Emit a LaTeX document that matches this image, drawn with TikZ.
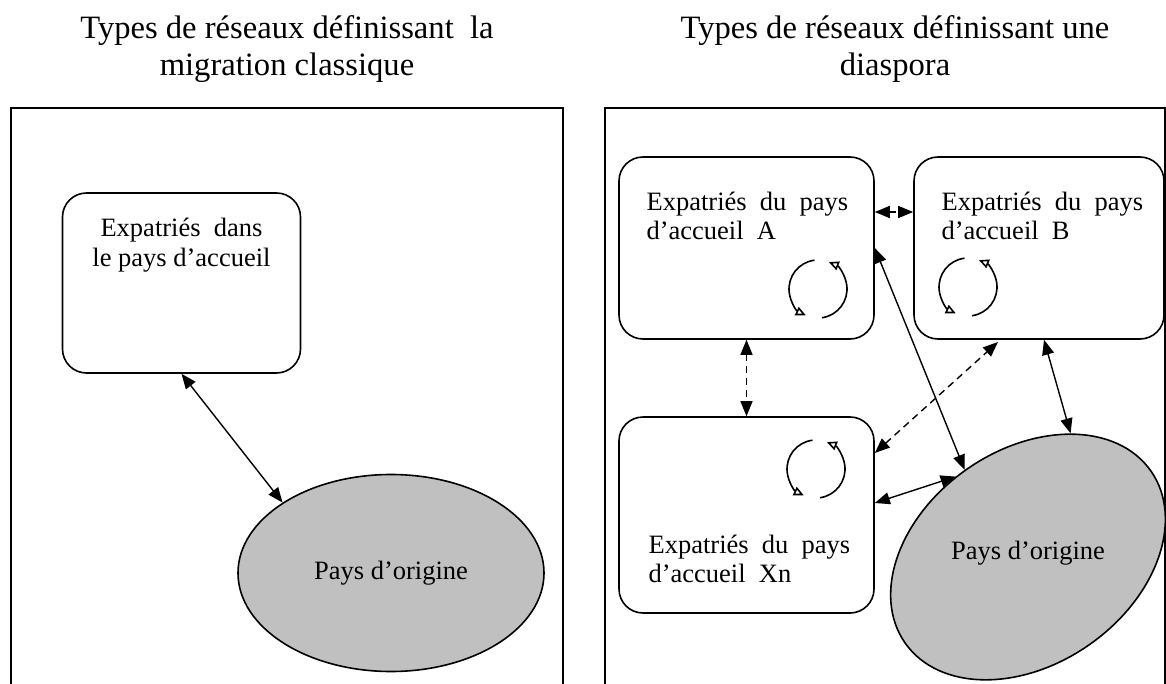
\documentclass[tikz,border=0pt]{standalone}
\usepackage{fontspec}
\setmainfont{Liberation Serif}
\newfontfamily\widefont[WordSpace=2]{Liberation Serif}
\usetikzlibrary{positioning,shapes.geometric,arrows.meta}
\definecolor{origgray}{RGB}{192,192,192}

\begin{document}
\begin{tikzpicture}[x=25pt,y=25pt,
        expbox/.style={draw,line width=0.8pt,rounded corners=12pt,minimum width=127.5pt,minimum height=91pt,inner sep=0pt},
        origell/.style={ellipse,draw,line width=0.8pt,fill=origgray,inner sep=0pt},
        titletxt/.style={align=center,inner sep=0pt,font=\fontsize{16.3pt}{18.5pt}\selectfont},
        bodytxt/.style={align=center,inner sep=0pt,font=\fontsize{13.25pt}{15.3pt}\selectfont},
        boxtxt/.style={align=left,inner sep=0pt,font=\fontsize{13.25pt}{14.75pt}\widefont},
        link/.style={line width=0.7pt,{Triangle[length=7.5pt,width=6pt]}-{Triangle[length=7.5pt,width=6pt]}},
        dlink/.style={link,dash pattern=on 3.5pt off 2.5pt},
        cycarr/.style={line width=0.8pt,-{Triangle[open,length=5pt,width=4.5pt]}}]
    \useasboundingbox (0,0) rectangle (23.32,-13.68);

    % titles
    \node[titletxt,anchor=north] (titleL) at (5.74,-0.30) {Types de réseaux définissant\ \ la\\migration classique};
    \node[titletxt,anchor=north] (titleR) at (17.9,-0.30) {Types de réseaux définissant une\\diaspora};

    % frames
    \draw[line width=1pt] (0.22,-13.68) -- (0.22,-2.16) -- (11.26,-2.16) -- (11.26,-13.68);
    \draw[line width=1pt] (12.1,-13.68) -- (12.1,-2.16) -- (23.30,-2.16) -- (23.30,-13.68);

    % classic migration
    \node[expbox,minimum width=119pt,minimum height=90pt] (boxL) at (3.63,-5.66) {};
    \node[bodytxt,below=12.5pt of boxL.north] (txtL) {Expatriés\ \ dans\\le pays d’accueil};

    \node[origell,minimum width=153pt,minimum height=98.5pt] (origA) at (7.82,-11.46) {};
    \node[bodytxt] (origAtxt) at (origA.center) {Pays d’origine};

    \draw[link] (boxL.south) -- (origA.147);

    % diaspora
    \node[expbox] (boxA) at (14.93,-4.96) {};
    \node[expbox,minimum width=125pt] (boxB) at (20.78,-4.96) {};
    \node[expbox,minimum height=98pt] (boxXn) at (14.93,-10.30) {};

    \node[boxtxt,below right=17.5pt and 14pt of boxA.north west] (txtA) {Expatriés du pays\\d’accueil A};
    \node[boxtxt,below right=17.5pt and 14pt of boxB.north west] (txtB) {Expatriés du pays\\d’accueil B};
    \node[boxtxt,below right=59pt and 15pt of boxXn.north west] (txtXn) {Expatriés du pays\\d’accueil Xn};

    \node[origell,minimum width=150pt,minimum height=107pt,rotate=35] (origB) at (20.56,-11.14) {};
    \node[bodytxt] (origBtxt) at ([yshift=2pt]origB.center) {Pays d’origine};

    % exchange cycles
    \coordinate (cycA) at (16.36,-5.78);
    \coordinate (cycB) at (19.36,-5.74);
    \coordinate (cycXn) at (16.32,-9.38);
    \draw[cycarr] ([shift={(97:0.58)}]cycA) arc[start angle=97,end angle=245,radius=0.58];
    \draw[cycarr] ([shift={(278:0.58)}]cycA) arc[start angle=278,end angle=428,radius=0.58];
    \draw[cycarr] ([shift={(97:0.58)}]cycB) arc[start angle=97,end angle=245,radius=0.58];
    \draw[cycarr] ([shift={(278:0.58)}]cycB) arc[start angle=278,end angle=428,radius=0.58];
    \draw[cycarr] ([shift={(97:0.58)}]cycXn) arc[start angle=97,end angle=245,radius=0.58];
    \draw[cycarr] ([shift={(278:0.58)}]cycXn) arc[start angle=278,end angle=428,radius=0.58];

    % links
    \draw[dlink] ([yshift=18pt]boxA.east) -- ([yshift=18pt]boxB.west);
    \draw[dlink] (boxA.south) -- (boxXn.north);
    \coordinate (dashB) at (19.96,-6.84);
    \draw[dlink] ([yshift=31pt]boxXn.east) -- (dashB);
    \draw[link] (boxA.east) -- (origB.91);
    \draw[link] ([xshift=2.5pt]boxB.south) -- (origB.36);
    \draw[link] ([yshift=6pt]boxXn.east) -- (origB.97);
\end{tikzpicture}
\end{document}
